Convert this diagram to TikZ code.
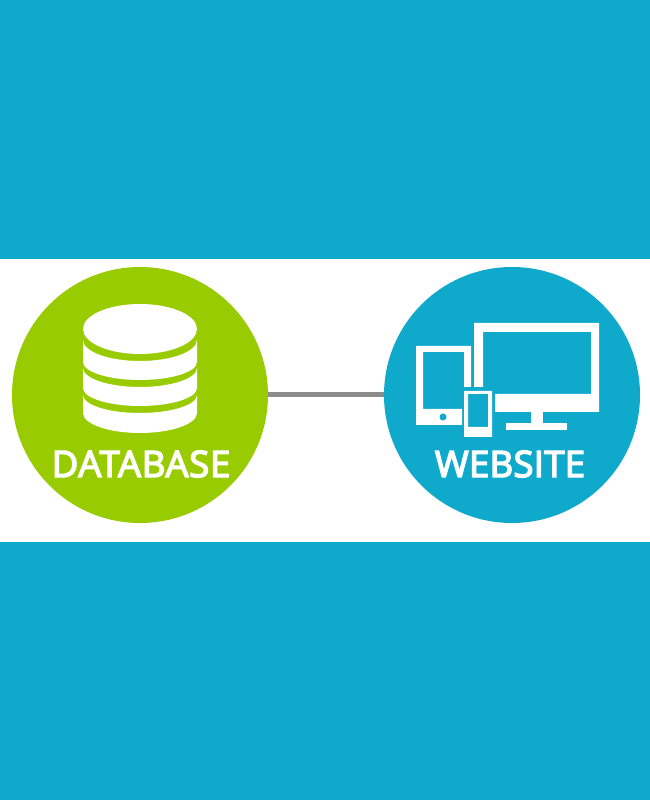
\documentclass[tikz,border=0pt]{standalone}
\usepackage{fontspec}
\setmainfont{Open Sans}[LetterSpace=2]
\newcommand{\heavytext}[1]{\special{pdf:code q 2 Tr 1.4 w}#1\special{pdf:code 0 Tr Q}}
\definecolor{skyblue}{HTML}{0FA9CC}
\definecolor{limegreen}{HTML}{99CC00}
\definecolor{linegray}{HTML}{8C8C8C}
\tikzset{
  disc/.style={circle,inner sep=0pt,minimum size=256pt},
  caption/.style={text=white,font=\fontsize{36.5}{36.5}\selectfont,inner sep=0pt},
}
\begin{document}
\begin{tikzpicture}[x=1pt,y=1pt]
  \useasboundingbox(0,0)rectangle(650,800);
  \fill[skyblue](0,0)rectangle(650,800);
  \fill[white](0,258)rectangle(650,541);
  \node[disc,fill=limegreen](database)at(140,405){};
  \node[disc,fill=skyblue](website)at(512,405){};
  \draw[linegray,line width=5pt](database)--(website);
  % stacked disks
  \fill[white](140,471)ellipse(57 and 25);
  \fill[white](83,460)arc(180:360:57 and 21)--(197,438)arc(0:-180:57 and 18)--cycle;
  \fill[white](83,432)arc(180:360:57 and 19)--(197,412)arc(0:-180:57 and 18)--cycle;
  \fill[white](83,405)arc(180:360:57 and 18)--(197,387)arc(0:-180:57 and 20)--cycle;
  % monitor
  \fill[white](474,477)--(599,477)--(599,388)--(495,388)--(495,406)--(591,406)--(591,468)--(483,468)--(483,413)--(474,413)--cycle;
  \fill[white](531,388)rectangle(543,377);
  \fill[white](506,377)rectangle(567,370);
  % tablet
  \fill[white](416,454)--(471,454)--(471,413)--(464,413)--(464,448)--(423,448)--(423,391)--(462,391)--(462,375)--(416,375)--cycle;
  \fill[skyblue](443,383)circle(3.5);
  % phone
  \fill[white,even odd rule](464,409)rectangle(492,363)(468,406)rectangle(488,373);
  \node[caption](dblabel)at(141,336){\heavytext{DATABASE}};
  \node[caption](weblabel)at(510,336){\addfontfeature{LetterSpace=0.8}\heavytext{WEBSITE}};
\end{tikzpicture}
\end{document}
